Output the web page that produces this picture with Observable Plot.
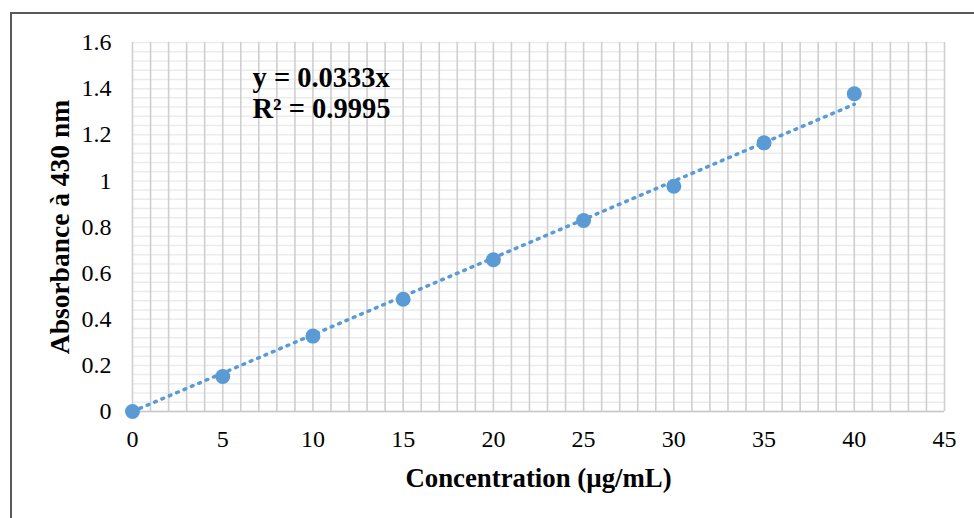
<!DOCTYPE html>
<html>
<head>
<meta charset="utf-8">
<script src="https://cdn.jsdelivr.net/npm/d3@7"></script>
<script src="https://cdn.jsdelivr.net/npm/@observablehq/plot@0.6"></script>
<style>
  body { margin: 0; background: #fff; }
  #wrap { position: relative; width: 974px; height: 518px; overflow: hidden; }
  #border { position: absolute; left: 10px; top: 12px; right: -10px; bottom: -10px;
            border-top: 2px solid #595959; border-left: 2px solid #595959; pointer-events: none; }
  #wrap svg { position: absolute; left: 0; top: 0; }
</style>
</head>
<body>
<div id="wrap"><div id="border"></div></div>
<script>
// Calibration standards: concentration (µg/mL) and measured absorbance at 430 nm
const concentrations = [0, 5, 10, 15, 20, 25, 30, 35, 40];
const absorbances = [0, 0.152, 0.327, 0.487, 0.658, 0.828, 0.977, 1.165, 1.378];

// Linear fit through the origin, as reported on the chart
const slope = 0.0333;
const rSquared = "0.9995";
const fitRange = [0, 40];

// Axis ticks and grid spacing
const xTicks = [0, 5, 10, 15, 20, 25, 30, 35, 40, 45];
const yTicks = [0, 0.2, 0.4, 0.6, 0.8, 1, 1.2, 1.4, 1.6];
const xGrid = d3.range(0, 46, 1);
const yMinorGrid = d3.range(0, 41).map(i => +(i * 0.04).toFixed(2));

const xLabel = "Concentration (µg/mL)";
const yLabel = "Absorbance à 430 nm";

const standards = concentrations.map((c, i) => ({ c, a: absorbances[i] }));
const fitLine = fitRange.map(c => ({ c, a: slope * c }));

const blue = "#5b9bd5";
const serif = "'Liberation Serif', 'Times New Roman', serif";

const chart = Plot.plot({
  width: 974,
  height: 518,
  marginLeft: 132,
  marginRight: 30,
  marginTop: 42,
  marginBottom: 107,
  style: { fontFamily: serif, background: "transparent" },
  x: { domain: [0, 45], axis: null },
  y: { domain: [0, 1.6], axis: null },
  marks: [
    Plot.ruleY(yMinorGrid, { stroke: "#ececec", strokeWidth: 1.5 }),
    Plot.ruleX(xGrid, { stroke: "#cfcfcf", strokeWidth: 1.6 }),
    Plot.ruleY([0], { stroke: "#c8c8c8", strokeWidth: 1.6 }),
    Plot.axisX({ ticks: xTicks, tickSize: 0, tickPadding: 18, fontSize: 24, fill: "#000", label: null }),
    Plot.axisY({ ticks: yTicks, tickSize: 0, tickPadding: 21, fontSize: 24, fill: "#000", label: null,
                 tickFormat: d => String(+d.toFixed(1)) }),
    Plot.line(fitLine, { x: "c", y: "a", stroke: blue, strokeWidth: 3.5,
                         strokeDasharray: "1.8 6.2", strokeLinecap: "round" }),
    Plot.dot(standards, { x: "c", y: "a", r: 7.5, fill: blue, stroke: "none" }),
    Plot.text([`y = ${slope}x`], { frameAnchor: "top-left", dx: 120, dy: 44, lineAnchor: "bottom",
                                   textAnchor: "start", fontSize: 28.5, fontWeight: "bold", fill: "#000" }),
    Plot.text([`R² = ${rSquared}`], { frameAnchor: "top-left", dx: 120, dy: 75, lineAnchor: "bottom",
                                      textAnchor: "start", fontSize: 28.5, fontWeight: "bold", fill: "#000" }),
    Plot.text([xLabel], { frameAnchor: "bottom", dy: 67, lineAnchor: "middle", textAnchor: "middle",
                          fontSize: 26.8, fontWeight: "bold", fill: "#000" }),
    Plot.text([yLabel], { frameAnchor: "left", dx: -72, rotate: -90, lineAnchor: "middle", textAnchor: "middle",
                          fontSize: 27.5, fontWeight: "bold", fill: "#000" })
  ]
});

document.getElementById("wrap").prepend(chart);
</script>
</body>
</html>
